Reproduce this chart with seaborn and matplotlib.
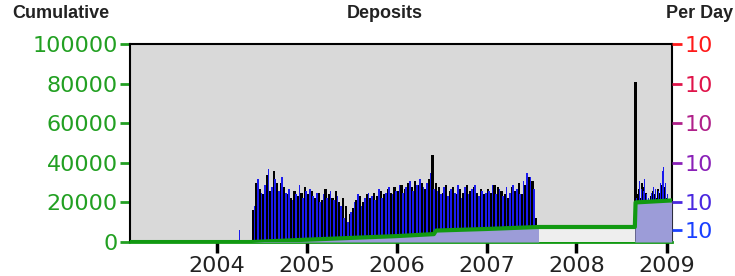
import numpy as np
import pandas as pd
import seaborn as sns
import matplotlib
import matplotlib.pyplot as plt
import matplotlib.dates as mdates

matplotlib.use("Agg")

# deposits per bin (thousands), main period: 2-week bins from 2004-05-24
black_main = [16, 30, 27, 24, 34, 26, 36, 30, 30, 28, 24, 22, 26, 23, 25, 28,
              24, 26, 22, 25, 21, 27, 24, 22, 26, 20, 22, 18, 14,
              17, 21, 23, 20, 24, 22, 25, 23, 26, 24, 27, 25, 28,
              26, 29, 27, 30, 28, 31, 29, 30, 27, 32, 44, 30, 28,
              25, 29, 26, 28, 24, 27, 25, 29, 26, 28, 25, 27, 24,
              27, 25, 29, 28, 26, 24, 22, 28, 26, 30, 24, 29, 33, 31, 12]
blue_main = [18, 32, 25, 29, 37, 28, 32, 26, 33, 25, 27, 21, 24, 29, 22, 26,
             27, 23, 25, 20, 24, 22, 26, 21, 23, 18, 12, 10, 15,
             20, 24, 18, 22, 25, 23, 21, 27, 22, 25, 28, 24, 26,
             29, 25, 28, 31, 26, 29, 32, 28, 30, 35, 27, 26, 24,
             28, 23, 27, 25, 29, 22, 28, 24, 27, 29, 23, 26, 25,
             26, 29, 24, 27, 23, 28, 25, 29, 27, 24, 31, 35, 33, 27, 8]
# late period: weekly bins from 2008-08-25
black_late = [81, 24, 27, 22, 30, 28, 25, 21, 20, 23, 26, 24, 22, 27, 25, 29, 26, 28, 22, 21, 18]
blue_late = [22, 29, 31, 27, 26, 32, 24, 22, 20, 25, 28, 27, 24, 26, 30, 36, 38, 30, 24, 20, 19]
early_date = "2004-04-01"
early_val = 6

# cumulative deposits
cum_dates = ["2003-01-15", "2004-05-20", "2005-01-01", "2006-01-01", "2006-06-01",
             "2006-06-10", "2007-01-01", "2007-08-01", "2008-08-25", "2008-08-28", "2009-01-22"]
cum_vals = [0, 0, 1200, 3000, 4000, 5800, 6600, 7600, 7600, 20000, 21000]

right_ticks = [100000, 80000, 60000, 40000, 20000, 6000]
right_colors = ["#ff1a1a", "#e0144a", "#b0208a", "#8a20b8", "#4a28e0", "#1a40ff"]
years = [2004, 2005, 2006, 2007, 2008, 2009]

main_dates = pd.date_range("2004-05-24", periods=len(black_main), freq="14D")
late_dates = pd.date_range("2008-08-25", periods=len(black_late), freq="7D")

sns.set_style("white")
plt.rcParams["font.family"] = ["DejaVu Sans"]

fig = plt.figure(figsize=(7.35, 2.76), dpi=100)
ax = fig.add_axes([0.177, 0.123, 0.737, 0.718])
ax.set_facecolor("#d9d9d9")

x0 = mdates.date2num(pd.Timestamp("2003-01-15"))
x1 = mdates.date2num(pd.Timestamp("2009-01-22"))

cdn = mdates.date2num(pd.to_datetime(cum_dates))
cv = np.array(cum_vals, dtype=float)

# fill below the cumulative line: lavender where deposits exist, pale in the gap
ax.fill_between(cdn[1:8], 0, cv[1:8], color="#9c9cd8", lw=0, zorder=3.5)
ax.fill_between(cdn[7:9], 0, cv[7:9], color="#eeeeee", lw=0, zorder=3.5)
ax.fill_between(cdn[8:], 0, cv[8:], color="#9c9cd8", lw=0, zorder=3.5)

bar_kw = dict(align="edge", linewidth=0, edgecolor="none")
ax.bar(mdates.date2num(main_dates), np.array(black_main) * 1000, width=9, color="black", zorder=2, **bar_kw)
ax.bar(mdates.date2num(main_dates) + 7, np.array(blue_main) * 1000, width=7, color="#1a1aee", zorder=3, **bar_kw)
ax.bar(mdates.date2num(late_dates) - 2, np.array(black_late) * 1000, width=9, color="black", zorder=2, **bar_kw)
ax.bar(mdates.date2num(late_dates) + 4, np.array(blue_late) * 1000, width=3.5, color="#1a1aee", zorder=3, **bar_kw)
ax.bar(mdates.date2num(pd.Timestamp(early_date)), early_val * 1000, width=5, color="#1a1aee", zorder=3, **bar_kw)

cum_df = pd.DataFrame({"date": cdn, "cum": cv})
sns.lineplot(data=cum_df, x="date", y="cum", color="#119911", lw=3, ax=ax, zorder=4)

ax.set_xlim(x0, x1)
ax.set_ylim(0, 100000)
ax.set_xlabel("")
ax.set_ylabel("")
ax.set_xticks([mdates.date2num(pd.Timestamp(f"{y}-01-01")) for y in years])
ax.set_xticklabels([str(y) for y in years], fontsize=16, color="#222222")
ax.set_yticks([0, 20000, 40000, 60000, 80000, 100000])
ax.set_yticklabels(["0", "20000", "40000", "60000", "80000", "100000"], fontsize=16, color="#22a022")
ax.tick_params(axis="x", direction="out", length=8, width=2.5, color="black", pad=2, bottom=True)
ax.tick_params(axis="y", direction="out", length=7, width=2, color="#22a022", pad=2, left=True)
for s in ["left", "top", "right"]:
    ax.spines[s].set_color("black")
    ax.spines[s].set_linewidth(1.5)
ax.spines["bottom"].set_color("#119911")
ax.spines["bottom"].set_linewidth(2)

ax2 = ax.twinx()
ax2.set_ylim(0, 100000)
ax2.set_yticks(right_ticks)
ax2.set_yticklabels(["10"] * len(right_ticks), fontsize=16)
ax2.tick_params(axis="y", direction="out", length=7, width=2, pad=2, right=True)
for lab, tk, c in zip(ax2.get_yticklabels(), ax2.yaxis.get_major_ticks(), right_colors):
    lab.set_color(c)
    tk.tick2line.set_markeredgecolor(c)
    tk.tick2line.set_color(c)
for s in ax2.spines.values():
    s.set_visible(False)

tfont = dict(fontsize=13, fontweight="bold", color="#222222", family="Liberation Sans")
fig.text(0.016, 0.935, "Cumulative", **tfont)
fig.text(0.524, 0.935, "Deposits", ha="center", **tfont)
fig.text(0.997, 0.935, "Per Day", ha="right", **tfont)

fig.savefig("out.png", dpi=100)
